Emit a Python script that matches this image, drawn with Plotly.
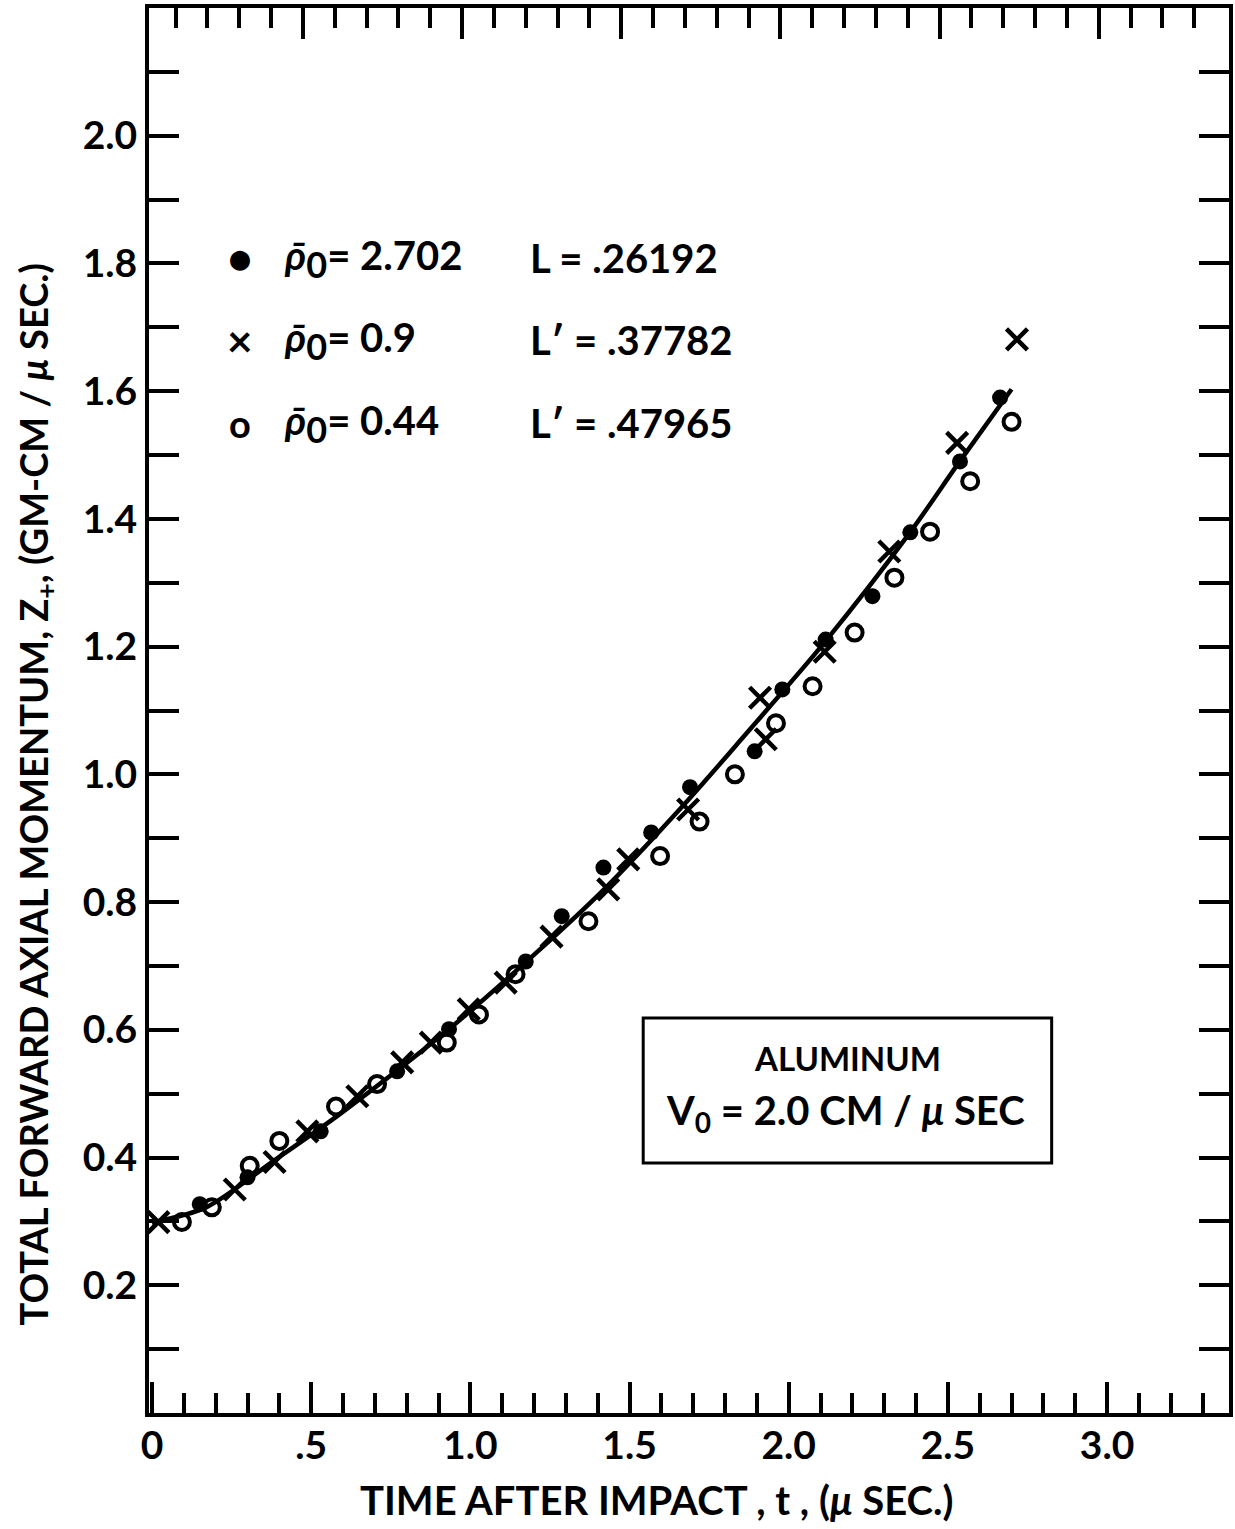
import plotly.graph_objects as go

# ---------------- data ----------------
# fitted curve (solid line)
curve_t = [0.0, 0.17, 0.38, 0.59, 0.93, 1.21, 1.42, 1.67, 1.86, 2.11, 2.38, 2.53, 2.70]
curve_z = [0.298, 0.322, 0.394, 0.468, 0.600, 0.722, 0.820, 0.952, 1.060, 1.205, 1.378, 1.485, 1.603]

# rho0 = 2.702 (filled dots)
dots_t = [0.15, 0.30, 0.53, 0.77, 0.933, 1.174, 1.287, 1.418, 1.568, 1.69, 1.893, 1.98,
          2.116, 2.263, 2.382, 2.538, 2.664]
dots_z = [0.327, 0.369, 0.441, 0.535, 0.601, 0.707, 0.778, 0.854, 0.909, 0.98, 1.036, 1.133,
          1.211, 1.279, 1.379, 1.49, 1.59]

# rho0 = 0.9 (crosses)
cross_t = [0.02, 0.26, 0.385, 0.488, 0.645, 0.786, 0.876, 0.995, 1.111, 1.255, 1.433, 1.496,
           1.684, 1.91, 1.928, 2.113, 2.316, 2.529, 2.717]
cross_z = [0.299, 0.35, 0.393, 0.441, 0.496, 0.549, 0.58, 0.632, 0.674, 0.746, 0.82, 0.867,
           0.945, 1.12, 1.055, 1.192, 1.349, 1.519, 1.681]

# rho0 = 0.44 (open circles)
open_t = [0.094, 0.188, 0.307, 0.40, 0.578, 0.707, 0.926, 1.027, 1.142, 1.371, 1.596, 1.72,
          1.831, 1.96, 2.075, 2.207, 2.332, 2.444, 2.57, 2.70]
open_z = [0.299, 0.322, 0.387, 0.426, 0.48, 0.515, 0.58, 0.624, 0.687, 0.77, 0.872, 0.926,
          1.0, 1.08, 1.138, 1.222, 1.308, 1.38, 1.459, 1.552]

# ticks
x_tickvals = [0, 0.5, 1.0, 1.5, 2.0, 2.5, 3.0]
x_ticktext = ["0", ".5", "1.0", "1.5", "2.0", "2.5", "3.0"]
x_minor = [0.1, 0.2, 0.3, 0.4, 0.6, 0.7, 0.8, 0.9, 1.1, 1.2, 1.3, 1.4, 1.6, 1.7, 1.8, 1.9,
           2.1, 2.2, 2.3, 2.4, 2.6, 2.7, 2.8, 2.9, 3.1, 3.2, 3.3]
y_tickvals = [0.2, 0.4, 0.6, 0.8, 1.0, 1.2, 1.4, 1.6, 1.8, 2.0]
y_ticktext = ["0.2", "0.4", "0.6", "0.8", "1.0", "1.2", "1.4", "1.6", "1.8", "2.0"]
y_minor = [0.1, 0.3, 0.5, 0.7, 0.9, 1.1, 1.3, 1.5, 1.7, 1.9, 2.1]

RHO0 = "<i>ρ\u0304</i><sub><span style='font-size:36px'>0</span></sub>"
legend_rows = [
    ("●", RHO0 + "= 2.702", "L = .26192"),
    ("×", RHO0 + "= 0.9", "L\u2032 = .37782"),
    ("o", RHO0 + "= 0.44", "L\u2032 = .47965"),
]

FONT = "Lato"
BLACK = "black"

fig = go.Figure()
fig.add_trace(go.Scatter(x=curve_t, y=curve_z, mode="lines",
                         line=dict(color=BLACK, width=4.5, shape="spline", smoothing=0.8),
                         hoverinfo="skip"))
fig.add_trace(go.Scatter(x=dots_t, y=dots_z, mode="markers",
                         marker=dict(symbol="circle", size=16, color=BLACK)))
fig.add_trace(go.Scatter(x=cross_t, y=cross_z, mode="markers",
                         marker=dict(symbol="x-thin-open", size=21, color=BLACK,
                                     line=dict(color=BLACK, width=4.5))))
fig.add_trace(go.Scatter(x=open_t, y=open_z, mode="markers",
                         marker=dict(symbol="circle-open", size=16, color=BLACK,
                                     line=dict(color=BLACK, width=4))))
# empty trace carrying the (shifted) top tick axis
fig.add_trace(go.Scatter(x=[], y=[], xaxis="x2", yaxis="y", showlegend=False))

x_range = [-0.0094, 3.383]
shift = 0.026

tickfont = dict(family=FONT, size=39, color=BLACK, weight="bold")

fig.update_layout(
    width=1235, height=1529,
    margin=dict(l=149, r=2, t=8, b=116),
    paper_bgcolor="white", plot_bgcolor="white",
    showlegend=False,
    xaxis=dict(range=x_range, showgrid=False, zeroline=False,
               showline=True, linecolor=BLACK, linewidth=4, mirror=True,
               ticks="inside", ticklen=31, tickwidth=4, tickcolor=BLACK,
               tickmode="array", tickvals=x_tickvals, ticktext=x_ticktext,
               tickfont=tickfont, ticklabelstandoff=-5,
               minor=dict(tickmode="array", tickvals=x_minor, ticks="inside",
                          ticklen=20, tickwidth=4, tickcolor=BLACK, showgrid=False)),
    xaxis2=dict(range=[x_range[0] + shift, x_range[1] + shift], overlaying="x", side="top",
                anchor="y", showgrid=False, zeroline=False, showline=False,
                ticks="inside", ticklen=31, tickwidth=4, tickcolor=BLACK,
                tickmode="array", tickvals=x_tickvals, showticklabels=False,
                minor=dict(tickmode="array", tickvals=x_minor, ticks="inside",
                           ticklen=20, tickwidth=4, tickcolor=BLACK, showgrid=False)),
    yaxis=dict(range=[0, 2.2], showgrid=False, zeroline=False,
               showline=True, linecolor=BLACK, linewidth=4, mirror="allticks",
               ticks="inside", ticklen=30, tickwidth=4, tickcolor=BLACK,
               tickmode="array", tickvals=y_tickvals, ticktext=y_ticktext,
               tickfont=tickfont, ticklabelstandoff=0,
               minor=dict(tickmode="array", tickvals=y_minor, ticks="inside",
                          ticklen=20, tickwidth=4, tickcolor=BLACK, showgrid=False)),
)

annfont = dict(family=FONT, size=40, color=BLACK, weight="bold")

# axis titles
fig.add_annotation(text="TIME AFTER IMPACT , t , (<i>μ</i> SEC.)", xref="paper", yref="paper",
                   x=0.4696, y=-0.062, xanchor="center", yanchor="middle",
                   showarrow=False, font=dict(family=FONT, size=40, color=BLACK, weight="bold"))
fig.add_annotation(text="TOTAL FORWARD AXIAL MOMENTUM, Z<sub>+</sub>, (GM-CM / <i>μ</i> SEC.)",
                   xref="paper", yref="paper", x=-0.105, y=0.44, textangle=-90,
                   xanchor="center", yanchor="middle", showarrow=False,
                   font=dict(family=FONT, size=38, color=BLACK, weight="bold"))

# legend block
row_y = [0.822, 0.7637, 0.7046]
sym_size = {"●": 40, "×": 44, "o": 38}
for (sym, t1, t2), yy in zip(legend_rows, row_y):
    fig.add_annotation(text=sym, xref="paper", yref="paper", x=0.084, y=yy,
                       xanchor="center", yanchor="middle", showarrow=False,
                       font=dict(family=FONT, size=sym_size[sym], color=BLACK, weight="bold"))
    fig.add_annotation(text=t1, xref="paper", yref="paper", x=0.123, y=yy,
                       xanchor="left", yanchor="middle", showarrow=False, font=annfont)
    fig.add_annotation(text=t2, xref="paper", yref="paper", x=0.351, y=yy,
                       xanchor="left", yanchor="middle", showarrow=False, font=annfont)

# boxed label
fig.add_shape(type="rect", xref="paper", yref="paper", x0=0.4576, x1=0.8358, y0=0.178, y1=0.2811,
              line=dict(color=BLACK, width=3), fillcolor="white", layer="above")
fig.add_annotation(text="ALUMINUM", xref="paper", yref="paper", x=0.6467, y=0.2527,
                   xanchor="center", yanchor="middle", showarrow=False,
                   font=dict(family=FONT, size=33, color=BLACK, weight="bold"))
fig.add_annotation(text="V<sub>0</sub> = 2.0 CM / <i>μ</i> SEC", xref="paper", yref="paper",
                   x=0.645, y=0.2142, xanchor="center", yanchor="middle", showarrow=False,
                   font=dict(family=FONT, size=40, color=BLACK, weight="bold"))

fig.write_html("out.html", config={"displayModeBar": False},
               post_script="document.body.style.margin='0px';")
